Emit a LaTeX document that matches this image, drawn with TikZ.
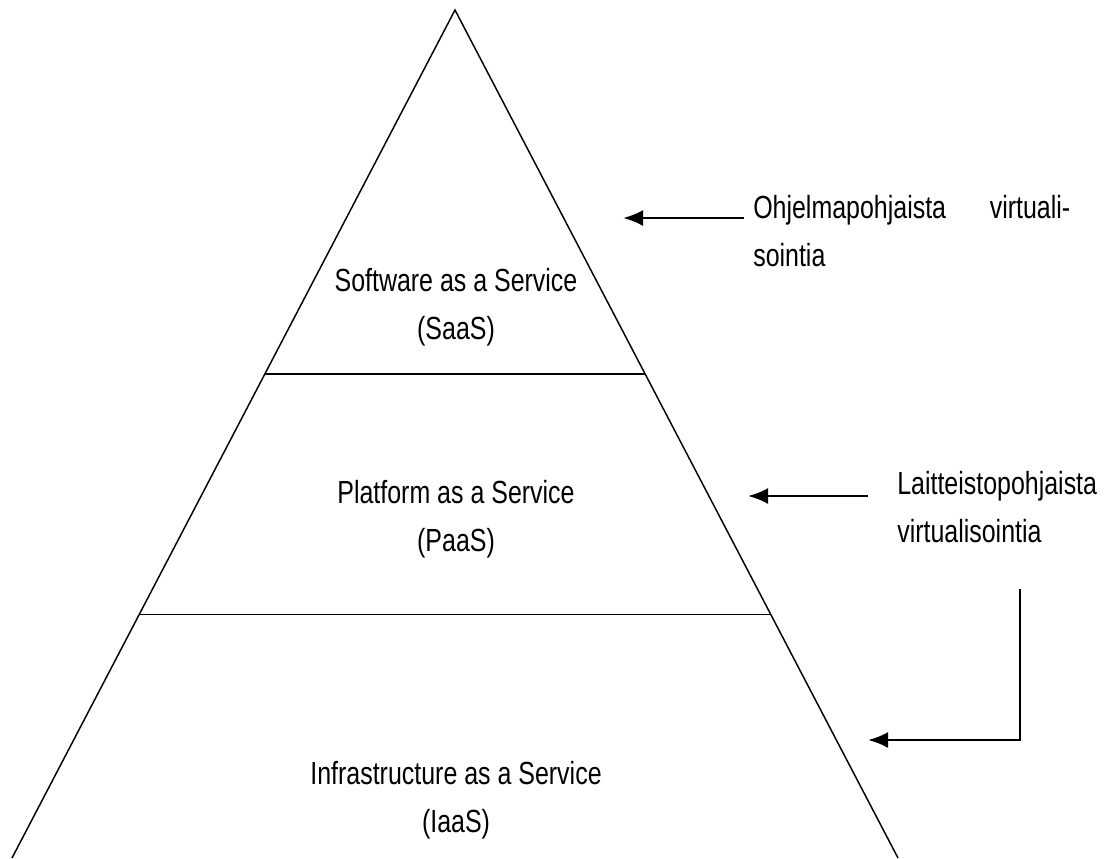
\documentclass[tikz,border=0pt]{standalone}
\usepackage{fontspec}
\setmainfont{Liberation Sans}[FakeStretch=0.78]
\usetikzlibrary{arrows.meta,calc}

\begin{document}
\begin{tikzpicture}[x=0.75pt,y=-0.75pt,
        layer/.style={font=\fontsize{24pt}{36pt}\selectfont, align=center, inner sep=0pt},
        note/.style={font=\fontsize{24pt}{36pt}\selectfont, align=left, inner sep=0pt, anchor=west},
        pointer/.style={line width=2pt, -{Latex[length=15pt,width=12pt]}}]
        \useasboundingbox (0,0) rectangle (1113,858);

        % Pyramidi: kärki ja pohjan kulmat
        \coordinate (top) at (455,10);
        \coordinate (bl) at (12,858);
        \coordinate (br) at (898,858);
        \draw[line width=1.1pt] (bl) -- (top) -- (br);

        % Kerrosten rajat
        \draw[line width=1.1pt] ($(top)!0.429!(bl)$) -- ($(top)!0.429!(br)$);
        \draw[line width=1.1pt] ($(top)!0.713!(bl)$) -- ($(top)!0.713!(br)$);

        % Kerrokset
        \node[layer] (saas) at (456,307) {Software as a Service\\(SaaS)};
        \node[layer] (paas) at (456,519) {Platform as a Service\\(PaaS)};
        \node[layer] (iaas) at (456,800) {Infrastructure as a Service\\(IaaS)};

        % Virtualisoinnin tyypit
        \node[note] (ohj) at (753,231) {\makebox[237.75pt][s]{Ohjelmapohjaista virtuali-}\\sointia};
        \node[note] (lai) at (897,507) {Laitteistopohjaista\\virtualisointia};

        % Nuolet
        \coordinate (ohj-from) at (744,218);
        \coordinate (ohj-to) at (623,218);
        \draw[pointer] (ohj-from) -- (ohj-to);
        \coordinate (lai-from) at (868,496);
        \coordinate (lai-to) at (748,496);
        \draw[pointer] (lai-from) -- (lai-to);
        \coordinate (lai-down) at (1020,589);
        \coordinate (iaas-to) at (868,740);
        \draw[pointer] (lai-down) |- (iaas-to);
\end{tikzpicture}
\end{document}
